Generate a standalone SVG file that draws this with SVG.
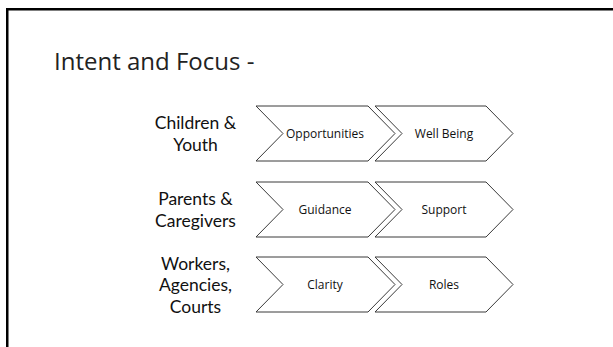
<svg xmlns="http://www.w3.org/2000/svg" width="613" height="347" viewBox="0 0 613 347">
<style>
.frame{fill:none;stroke:#000;stroke-width:2.5}
.chev{fill:#fff;stroke:#3a3a3a;stroke-width:1}
.lbl{font-family:Lato,"Open Sans",sans-serif;font-size:17.5px;fill:#111;text-anchor:middle}
.ct{font-family:"Open Sans","Noto Sans",sans-serif;font-size:12px;fill:#111;text-anchor:middle}
.title{font-family:"Open Sans","Noto Sans",sans-serif;font-size:24px;fill:#222}
</style>
<rect width="613" height="347" fill="#fff"/>
<path class="frame" d="M7.25 347 V9.25 H613"/>
<text class="title" x="54" y="70">Intent and Focus -</text>

<g id="row1-label"><text class="lbl" x="195.5" y="129">Children &amp;</text><text class="lbl" x="195.5" y="150.5">Youth</text></g>
<g id="row2-label"><text class="lbl" x="195.5" y="205">Parents &amp;</text><text class="lbl" x="195.5" y="226.5">Caregivers</text></g>
<g id="row3-label"><text class="lbl" x="195.5" y="269.5">Workers,</text><text class="lbl" x="195.5" y="291">Agencies,</text><text class="lbl" x="195.5" y="312.5">Courts</text></g>

<g id="opportunities"><path class="chev" d="M256 106 H368 L395 133.5 L368 161 H256 L283 133.5 Z"/><text class="ct" x="325" y="138">Opportunities</text></g>
<g id="wellbeing"><path class="chev" d="M375 106 H486 L513 133.5 L486 161 H375 L402 133.5 Z"/><text class="ct" x="444" y="138">Well Being</text></g>

<g id="guidance"><path class="chev" d="M256 182 H368 L395 209.5 L368 237 H256 L283 209.5 Z"/><text class="ct" x="325" y="214">Guidance</text></g>
<g id="support"><path class="chev" d="M375 182 H486 L513 209.5 L486 237 H375 L402 209.5 Z"/><text class="ct" x="444" y="214">Support</text></g>

<g id="clarity"><path class="chev" d="M256 257 H368 L395 284.5 L368 312 H256 L283 284.5 Z"/><text class="ct" x="325" y="289">Clarity</text></g>
<g id="roles"><path class="chev" d="M375 257 H486 L513 284.5 L486 312 H375 L402 284.5 Z"/><text class="ct" x="444" y="289">Roles</text></g>
<g id="connectors"/>
</svg>
